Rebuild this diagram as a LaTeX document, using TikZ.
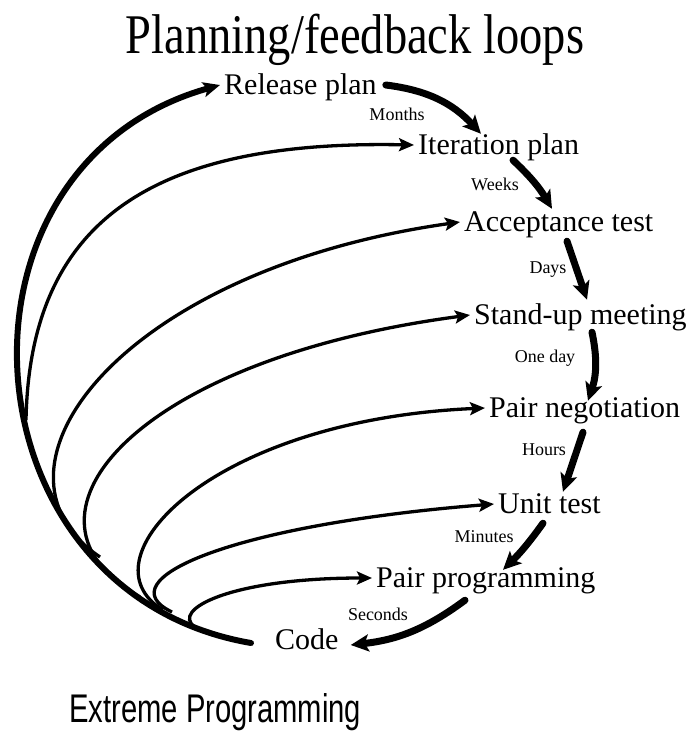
\documentclass[tikz,border=0pt]{standalone}
\usepackage{fontspec}
\usepackage{graphicx}
\setmainfont{Liberation Serif}
\newfontfamily\capsans{Liberation Sans}
\usetikzlibrary{arrows.meta}

\tikzset{
  lbl/.style={inner xsep=4pt, inner ysep=0pt, text height=22pt, text depth=4pt,
              anchor=base west, font=\fontsize{30}{36}\selectfont},
  tm/.style={inner sep=0pt, anchor=base, font=\fontsize{18}{22}\selectfont},
  loopline/.style={line width=3.3pt, -{Stealth[length=15pt,width=13pt,inset=3pt]}},
  outerloop/.style={line width=6pt, line cap=round, -{Stealth[length=17pt,width=15pt,inset=4pt]}},
  chain/.style={line width=7pt, line cap=round, -{Stealth[length=18pt,width=17pt,inset=4pt]}},
}

\begin{document}
\begin{tikzpicture}[x=1pt,y=-1pt]
\useasboundingbox (0,0) rectangle (695,742);
\fill[white] (0,0) rectangle (695,742);

% headings
\node[anchor=base, inner sep=0pt] (title) at (355,53)
  {\scalebox{0.83}[1]{\fontsize{56}{60}\selectfont Planning/feedback loops}};
\node[anchor=base west, inner sep=0pt] (xp) at (69,722)
  {\scalebox{0.73}[1]{\capsans\fontsize{40}{44}\selectfont Extreme Programming}};

% practices
\node[lbl] (release) at (220,94)  {Release plan};
\node[lbl] (iter)    at (414,154) {Iteration plan};
\node[lbl] (acc)     at (460,231) {Acceptance test};
\node[lbl] (stand)   at (470,324) {Stand-up meeting};
\node[lbl] (pneg)    at (485,417) {Pair negotiation};
\node[lbl] (unit)    at (494,513) {Unit test};
\node[lbl] (pprog)   at (372,587) {Pair programming};
\node[lbl] (code)    at (271,649) {Code};

% time scales
\node[tm] (tmonths)  at (397,120) {Months};
\node[tm] (tweeks)   at (495,190) {Weeks};
\node[tm] (tdays)    at (548,273) {Days};
\node[tm] (toneday)  at (545,362) {One day};
\node[tm] (thours)   at (544,455) {Hours};
\node[tm] (tminutes) at (484,542) {Minutes};
\node[tm] (tseconds) at (378,620) {Seconds};

% feedback loops from the code back to every practice
\coordinate (cstart) at ([xshift=-20pt,yshift=-3pt]code.west);
\draw[outerloop] (cstart) .. controls (-40,593) and (-66,165) .. (release.west);

\coordinate (j2) at (26,420);
\coordinate (j3) at (100,557);
\coordinate (j4) at (140,597);
\coordinate (j5) at (163,610);
\coordinate (j6) at (172,612);
\coordinate (j7) at (195,627);

\draw[loopline] (j2) .. controls (30,215)  and (160,140) .. (iter.west);
\draw[loopline] (j3) .. controls (-30,470) and (120,270) .. (acc.west);
\draw[loopline] (j4) .. controls (0,520)   and (130,360) .. (stand.west);
\draw[loopline] (j5) .. controls (80,560)  and (210,420) .. (pneg.west);
\draw[loopline] (j6) .. controls (105,580) and (230,525) .. (unit.west);
\draw[loopline] (j7) .. controls (170,610) and (230,578) .. (pprog.west);

% planning chain, from the longest loop to the shortest
\draw[chain] ([xshift=5pt]release.east) to[bend left=20]
  ([xshift=67pt,yshift=-2pt]iter.north west);
\draw[chain] ([xshift=99pt,yshift=-2pt]iter.south west) to[bend left=8]
  ([xshift=92pt]acc.north west);
\draw[chain] ([xshift=107pt,yshift=-6pt]acc.south west) --
  ([xshift=117pt,yshift=2pt]stand.north west);
\draw[chain] ([xshift=122pt,yshift=-4pt]stand.south west) to[bend left=15]
  ([xshift=103pt,yshift=-6pt]pneg.north west);
\draw[chain] ([xshift=98pt,yshift=-11pt]pneg.south west) --
  ([xshift=69pt,yshift=-1pt]unit.north west);
\draw[chain] ([xshift=49pt,yshift=-6pt]unit.south west) to[bend left=5]
  ([xshift=131pt,yshift=-5pt]pprog.north west);
\draw[chain] ([xshift=93pt,yshift=-9pt]pprog.south west) to[bend left=15]
  ([xshift=8pt,yshift=-5pt]code.east);
\end{tikzpicture}
\end{document}
